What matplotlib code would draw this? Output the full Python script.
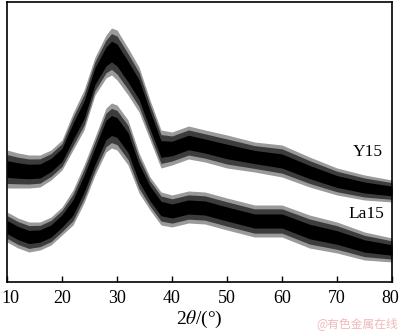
import matplotlib
matplotlib.use("Agg")
import matplotlib.pyplot as plt
from matplotlib.transforms import ScaledTranslation

# 2theta positions (degrees)
two_theta = [10, 12, 14, 16, 18, 20, 22, 24, 26, 28, 29, 30, 32, 34, 36, 38, 40, 43, 46, 50, 55, 60, 65, 70, 75, 80]

# Y15 pattern: upper / lower envelope of the noisy trace (arb. units)
y15_top = [132, 129, 127, 127, 132, 142, 169, 192, 225, 247, 254, 252, 234, 215, 182, 152, 150, 156, 152, 147, 140, 137, 125, 114, 107, 102]
y15_bot = [94, 94, 94, 95, 102, 112, 132, 152, 187, 204, 207, 202, 187, 170, 142, 114, 117, 123, 120, 114, 110, 105, 95, 87, 82, 80]

# La15 pattern: upper / lower envelope of the noisy trace (arb. units)
la15_top = [70, 64, 60, 60, 65, 75, 92, 117, 145, 174, 179, 177, 162, 129, 105, 90, 87, 91, 90, 84, 77, 77, 67, 60, 50, 44]
la15_bot = [40, 34, 30, 32, 37, 47, 57, 79, 107, 130, 134, 132, 117, 89, 72, 57, 55, 59, 58, 52, 45, 45, 34, 29, 22, 20]

labels = ["Y15", "La15"]
xticks = [10, 20, 30, 40, 50, 60, 70, 80]

plt.rcParams['font.family'] = ['Liberation Serif', 'DejaVu Serif']
plt.rcParams['mathtext.fontset'] = 'stix'

fig = plt.figure(figsize=(4.0, 3.32), dpi=100)
ax = fig.add_axes([0.0175, 0.1506, 0.9625, 0.8434])

for top, bot in [(y15_top, y15_bot), (la15_top, la15_bot)]:
    for frac, col in [(0.0, '#9a9a9a'), (0.12, '#3c3c3c'), (0.28, 'black')]:
        t2 = [t - frac * (t - b) for t, b in zip(top, bot)]
        b2 = [b + frac * (t - b) for t, b in zip(top, bot)]
        ax.fill_between(two_theta, b2, t2, color=col, linewidth=0)

ax.text(78.4, 129.5, labels[0], fontsize=12.5, ha='right', va='center')
ax.text(78.6, 68, labels[1], fontsize=12.5, ha='right', va='center')

ax.set_xlim(10, 80)
ax.set_ylim(0, 280)
ax.set_xticks(xticks)
ax.set_xticklabels([str(t) for t in xticks], fontsize=13)
ax.set_yticks([])
ax.tick_params(axis='x', direction='in', length=4, width=1, pad=6)
for s in ax.spines.values():
    s.set_linewidth(1.2)
ax.set_xlabel(r'2$\theta$/(°)', fontsize=14, labelpad=1)

# keep the edge tick labels inside the picture
tl = ax.get_xticklabels()
tl[0].set_transform(tl[0].get_transform() + ScaledTranslation(3 / 100, 0, fig.dpi_scale_trans))
tl[-1].set_transform(tl[-1].get_transform() + ScaledTranslation(-2 / 100, 0, fig.dpi_scale_trans))

fig.text(0.995, 0.005, '@有色金属在线', fontsize=8.5, color='#f2b8b8', ha='right', va='bottom',
         family=['Noto Sans CJK SC', 'DejaVu Sans'])

fig.savefig('out.png', dpi=100)
